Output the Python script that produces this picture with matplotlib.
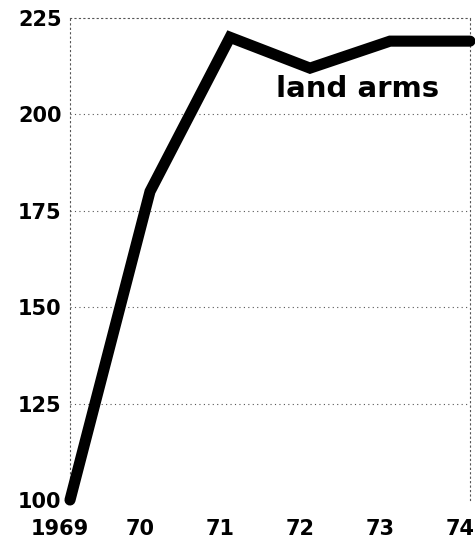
import matplotlib
matplotlib.use('Agg')
import matplotlib.pyplot as plt
import matplotlib.transforms as mtransforms

# data
years = [1969, 1970, 1971, 1972, 1973, 1974]
values = [100, 180, 220, 212, 219, 219]
year_labels = ['1969', '70', '71', '72', '73', '74']
y_ticks = [100, 125, 150, 175, 200, 225]

fig = plt.figure(figsize=(4.75, 5.46), dpi=100)
ax = fig.add_axes([70 / 475, 46 / 546, 400 / 475, 482 / 546])

ax.plot(years, values, color='black', lw=8, solid_joinstyle='miter',
        solid_capstyle='round', clip_on=False, zorder=5)

ax.set_xlim(1969, 1974)
ax.set_ylim(100, 225)

# dotted grid and frame
for v in y_ticks[1:-1]:
    ax.axhline(v, color='#555555', ls=(0, (1, 3)), lw=0.8, zorder=1)
for side in ['top', 'right', 'left']:
    ax.spines[side].set_linestyle((0, (1, 3)))
    ax.spines[side].set_color('#555555')
    ax.spines[side].set_linewidth(0.8)
ax.spines['bottom'].set_visible(False)

ax.set_yticks(y_ticks)
ax.set_yticklabels([str(v) for v in y_ticks])
ax.set_xticks(years)
ax.set_xticklabels(year_labels)
ax.tick_params(axis='both', length=0, labelsize=15)
ax.tick_params(axis='y', pad=6)
ax.tick_params(axis='x', pad=14)
for lab in ax.get_xticklabels() + ax.get_yticklabels():
    lab.set_fontweight('bold')

# year labels sit a little left of their ticks
shift = mtransforms.ScaledTranslation(-10 / 100, 0, fig.dpi_scale_trans)
for lab in ax.get_xticklabels():
    lab.set_transform(lab.get_transform() + shift)

ax.text(1972.6, 206.6, 'land arms', ha='center', va='center',
        fontsize=21, fontweight='bold', zorder=6)

fig.savefig('out.png', dpi=100)
